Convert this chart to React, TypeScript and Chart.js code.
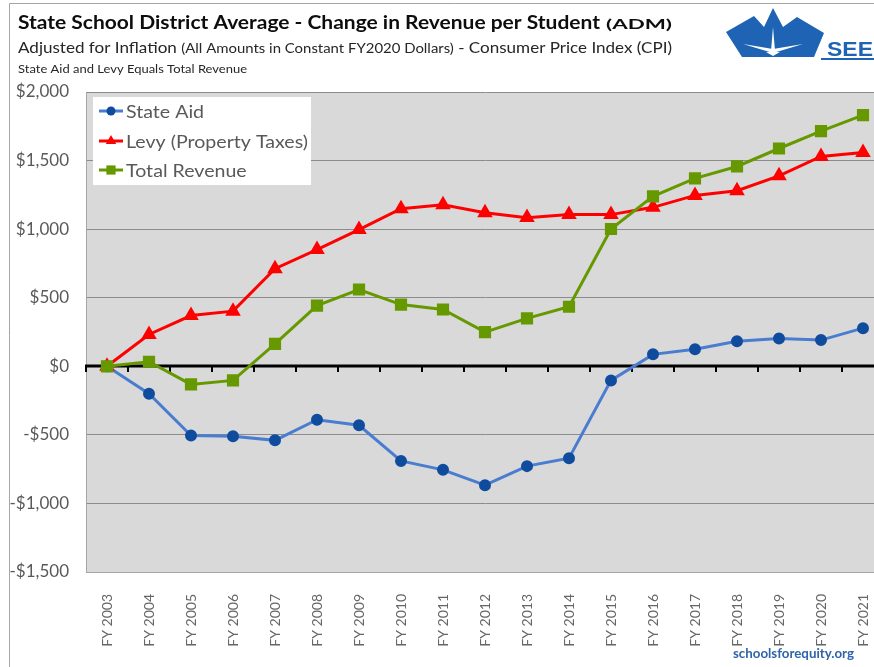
import React, { useEffect, useRef } from "react";
import { Chart, registerables } from "chart.js";

Chart.register(...registerables);

const years = [
  "FY 2003", "FY 2004", "FY 2005", "FY 2006", "FY 2007", "FY 2008", "FY 2009",
  "FY 2010", "FY 2011", "FY 2012", "FY 2013", "FY 2014", "FY 2015", "FY 2016",
  "FY 2017", "FY 2018", "FY 2019", "FY 2020", "FY 2021",
];
const stateAid = [0, -200, -505, -510, -540, -390, -430, -690, -755, -867, -728, -670, -103, 87, 125, 183, 203, 191, 278];
const levy = [0, 232, 370, 402, 712, 851, 997, 1149, 1178, 1120, 1084, 1106, 1106, 1159, 1246, 1280, 1389, 1530, 1559];
const totalRevenue = [0, 33, -132, -103, 164, 443, 560, 450, 414, 249, 349, 434, 1001, 1239, 1370, 1457, 1588, 1715, 1831];
const seriesNames = ["State Aid", "Levy (Property Taxes)", "Total Revenue"];
const yTicks = [-1500, -1000, -500, 0, 500, 1000, 1500, 2000];

const titleMain = "State School District Average - Change in Revenue per Student";
const titleSmall = "(ADM)";
const sub2a = "Adjusted for Inflation ";
const sub2b = "(All Amounts in Constant FY2020 Dollars)";
const sub2c = " - Consumer Price Index (CPI)";
const sub3 = "State Aid and Levy Equals Total Revenue";
const footer = "schoolsforequity.org";

const FONT = "Lato, 'Open Sans', sans-serif";

function fmt(v: number) {
  const s = "$" + Math.abs(v).toLocaleString("en-US");
  return v < 0 ? "-" + s : s;
}

function drawMarker(ctx: CanvasRenderingContext2D, style: string, x: number, y: number, r: number, color: string) {
  ctx.save();
  ctx.fillStyle = color;
  ctx.beginPath();
  if (style === "circle") {
    ctx.arc(x, y, r, 0, Math.PI * 2);
  } else if (style === "triangle") {
    ctx.moveTo(x, y - r);
    ctx.lineTo(x + r * 0.866, y + r * 0.5);
    ctx.lineTo(x - r * 0.866, y + r * 0.5);
    ctx.closePath();
  } else {
    const s = r / Math.SQRT2;
    ctx.rect(x - s, y - s, 2 * s, 2 * s);
  }
  ctx.fill();
  ctx.restore();
}

type Seg = { t: string; font: string };
function drawFitted(ctx: CanvasRenderingContext2D, segs: Seg[], x: number, baseline: number, width: number, color: string) {
  ctx.save();
  let total = 0;
  const ws = segs.map((s) => {
    ctx.font = s.font;
    const w = ctx.measureText(s.t).width;
    total += w;
    return w;
  });
  const k = width / total;
  ctx.translate(x, baseline);
  ctx.scale(k, 1);
  ctx.fillStyle = color;
  ctx.textBaseline = "alphabetic";
  ctx.textAlign = "left";
  let cx = 0;
  segs.forEach((s, i) => {
    ctx.font = s.font;
    ctx.fillText(s.t, cx, 0);
    cx += ws[i];
  });
  ctx.restore();
}

const decorPlugin = {
  id: "decor",
  beforeDraw(chart: any) {
    const { ctx, chartArea: a } = chart;
    ctx.save();
    ctx.fillStyle = "#ffffff";
    ctx.fillRect(0, 0, chart.width, chart.height);
    ctx.fillStyle = "#D9D9D9";
    ctx.fillRect(a.left, a.top, a.right - a.left, a.bottom - a.top);
    ctx.restore();
  },
  beforeDatasetsDraw(chart: any) {
    const { ctx, chartArea: a } = chart;
    const xs = chart.scales.x;
    const y0 = Math.round(chart.scales.y.getPixelForValue(0));
    ctx.save();
    ctx.strokeStyle = "#000000";
    ctx.lineWidth = 3;
    ctx.beginPath();
    ctx.moveTo(a.left - 1, y0);
    ctx.lineTo(a.right, y0);
    ctx.stroke();
    const step = xs.getPixelForValue(1) - xs.getPixelForValue(0);
    ctx.lineWidth = 2;
    for (let i = 0; i <= years.length; i++) {
      const bx = Math.round(xs.getPixelForValue(0) - step / 2 + i * step);
      ctx.beginPath();
      ctx.moveTo(bx, y0);
      ctx.lineTo(bx, y0 + 6);
      ctx.stroke();
    }
    ctx.restore();
  },
  afterDraw(chart: any) {
    const { ctx } = chart;
    // legend
    ctx.save();
    ctx.fillStyle = "#ffffff";
    ctx.fillRect(93, 97, 218, 88);
    const rows = [111, 141, 170];
    ctx.font = "18px " + FONT;
    const k = 182 / ctx.measureText(seriesNames[1]).width;
    chart.data.datasets.forEach((ds: any, i: number) => {
      const y = rows[i];
      ctx.strokeStyle = ds.borderColor;
      ctx.lineWidth = 3;
      ctx.beginPath();
      ctx.moveTo(99, y);
      ctx.lineTo(123, y);
      ctx.stroke();
      drawMarker(ctx, ds.pointStyle, 111, y, ds.pointRadius, ds.pointBackgroundColor);
      ctx.save();
      ctx.fillStyle = "#595959";
      ctx.font = "18px " + FONT;
      ctx.textBaseline = "middle";
      ctx.translate(126, y + 1);
      ctx.scale(k, 1);
      ctx.fillText(ds.label, 0, 0);
      ctx.restore();
    });
    ctx.restore();

    // titles
    drawFitted(ctx, [{ t: titleMain, font: "bold 19px " + FONT }], 18, 29, 582, "#0D0D0D");
    drawFitted(ctx, [{ t: titleSmall, font: "bold 13px " + FONT }], 606, 29, 66, "#0D0D0D");
    drawFitted(
      ctx,
      [
        { t: sub2a, font: "16px " + FONT },
        { t: sub2b, font: "14px " + FONT },
        { t: sub2c, font: "16px " + FONT },
      ],
      18, 53, 654, "#262626"
    );
    drawFitted(ctx, [{ t: sub3, font: "12px " + FONT }], 18, 73, 229, "#262626");
    drawFitted(ctx, [{ t: footer, font: "bold 14px " + FONT }], 733, 658, 121, "#2F64AA");

    // logo
    ctx.save();
    ctx.fillStyle = "#1F63B4";
    ctx.beginPath();
    ctx.moveTo(726, 32);
    ctx.lineTo(754, 16);
    ctx.lineTo(764, 27);
    ctx.lineTo(773, 8);
    ctx.lineTo(783, 27);
    ctx.lineTo(797, 17);
    ctx.lineTo(824, 33);
    ctx.lineTo(814, 57);
    ctx.lineTo(742, 57);
    ctx.closePath();
    ctx.fill();
    ctx.fillStyle = "#ffffff";
    ctx.beginPath();
    ctx.moveTo(771, 51);
    ctx.lineTo(775, 51);
    ctx.lineTo(773, 27);
    ctx.closePath();
    ctx.fill();
    ctx.beginPath();
    ctx.moveTo(773, 49);
    ctx.lineTo(773, 53);
    ctx.lineTo(743, 44);
    ctx.closePath();
    ctx.fill();
    ctx.beginPath();
    ctx.moveTo(773, 49);
    ctx.lineTo(773, 53);
    ctx.lineTo(803, 44);
    ctx.closePath();
    ctx.fill();
    ctx.beginPath();
    ctx.moveTo(766, 52);
    ctx.lineTo(780, 52);
    ctx.lineTo(773, 56);
    ctx.closePath();
    ctx.fill();
    ctx.restore();
    drawFitted(ctx, [{ t: "SEE", font: "bold 21px 'Liberation Sans', Arial, sans-serif" }], 827, 56, 46, "#1F63B4");
    ctx.save();
    ctx.strokeStyle = "#1F63B4";
    ctx.lineWidth = 2;
    ctx.beginPath();
    ctx.moveTo(821, 59);
    ctx.lineTo(880, 59);
    ctx.stroke();
    ctx.restore();

    // outer frame
    ctx.save();
    ctx.strokeStyle = "#A6A6A6";
    ctx.lineWidth = 1;
    ctx.beginPath();
    ctx.moveTo(9.5, 700);
    ctx.lineTo(9.5, 3.5);
    ctx.lineTo(900, 3.5);
    ctx.stroke();
    ctx.restore();
  },
};

export default function App() {
  const ref = useRef<HTMLCanvasElement | null>(null);
  useEffect(() => {
    if (!ref.current) return;
    Chart.defaults.font.family = FONT;
    const chart = new Chart(ref.current, {
      type: "line",
      data: {
        labels: years,
        datasets: [
          {
            label: seriesNames[0],
            data: stateAid,
            borderColor: "#4A7DD0",
            backgroundColor: "#0F4C9E",
            pointBackgroundColor: "#0F4C9E",
            pointBorderColor: "#0F4C9E",
            pointStyle: "circle",
            pointRadius: 4.5,
            pointHoverRadius: 4.5,
            borderWidth: 3,
            tension: 0,
            order: 3,
          },
          {
            label: seriesNames[1],
            data: levy,
            borderColor: "#FF0000",
            backgroundColor: "#FF0000",
            pointBackgroundColor: "#FF0000",
            pointBorderColor: "#FF0000",
            pointStyle: "triangle",
            pointRadius: 6,
            pointHoverRadius: 6,
            borderWidth: 3,
            tension: 0,
            order: 2,
          },
          {
            label: seriesNames[2],
            data: totalRevenue,
            borderColor: "#669900",
            backgroundColor: "#669900",
            pointBackgroundColor: "#669900",
            pointBorderColor: "#669900",
            pointStyle: "rect",
            pointRadius: 6.5,
            pointHoverRadius: 6.5,
            borderWidth: 3,
            tension: 0,
            order: 1,
          },
        ],
      },
      options: {
        responsive: false,
        animation: false,
        devicePixelRatio: 1,
        layout: { padding: { top: 92, right: 16, left: 0, bottom: 0 } },
        plugins: {
          legend: { display: false },
          tooltip: { enabled: false },
          title: { display: false },
        },
        scales: {
          x: {
            type: "category",
            offset: true,
            grid: { display: false },
            border: { display: true, color: "#A6A6A6", width: 1 },
            ticks: {
              autoSkip: false,
              minRotation: 90,
              maxRotation: 90,
              padding: 14,
              color: "#666666",
              font: { family: FONT, size: 14 },
            },
            afterFit(s: any) {
              s.height = 95;
            },
          },
          y: {
            min: yTicks[0],
            max: yTicks[yTicks.length - 1],
            afterBuildTicks(s: any) {
              s.ticks = yTicks.map((v) => ({ value: v }));
            },
            ticks: {
              padding: 17,
              color: "#595959",
              font: { family: FONT, size: 17 },
              callback: (v: any) => fmt(Number(v)),
            },
            grid: { color: "#8C8C8C", lineWidth: 1, drawTicks: false },
            border: { display: true, color: "#A6A6A6", width: 1 },
            afterFit(s: any) {
              s.width = 86;
            },
          },
        },
      } as any,
      plugins: [decorPlugin],
    });
    return () => chart.destroy();
  }, []);
  return (
    <div
      style={{
        position: "fixed",
        left: 0,
        top: 0,
        width: 874,
        height: 667,
        overflow: "hidden",
        background: "#ffffff",
      }}
    >
      <canvas ref={ref} width={900} height={667} style={{ display: "block", width: 900, height: 667 }} />
    </div>
  );
}
